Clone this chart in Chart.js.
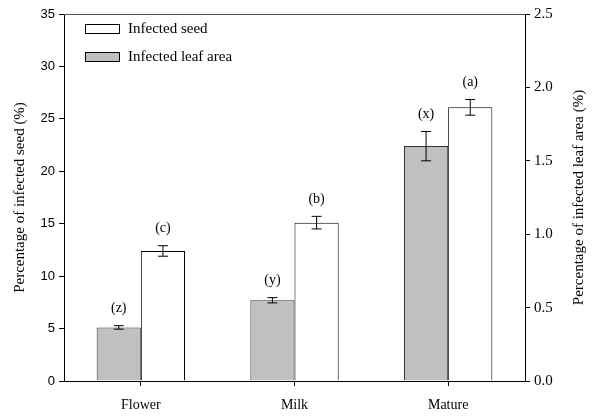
<!DOCTYPE html>
<html>
<head>
<meta charset="utf-8">
<script src="https://cdn.jsdelivr.net/npm/chart.js@4"></script>
<style>
  html, body { margin: 0; padding: 0; background: #fff; }
  #wrap { width: 595px; height: 419px; }
</style>
</head>
<body>
<div id="wrap"><canvas id="chart" width="595" height="419"></canvas></div>
<script>
// data
const stages = ['Flower', 'Milk', 'Mature'];
const seedValues = [12.4, 15.1, 26.1];      // % infected seed (left axis)
const seedErrors = [0.5, 0.6, 0.75];
const seedLetters = ['(c)', '(b)', '(a)'];
const leafValues = [0.365, 0.55, 1.6];      // % infected leaf area (right axis)
const leafErrors = [0.012, 0.018, 0.1];
const leafLetters = ['(z)', '(y)', '(x)'];
const seedTicks = [0, 5, 10, 15, 20, 25, 30, 35];
const leafTicks = [0, 0.5, 1.0, 1.5, 2.0, 2.5];

const serif = '"Liberation Serif", "Times New Roman", serif';
const sans = '"Liberation Sans", Arial, sans-serif';

const errorBars = {
    id: 'errorBars',
    afterDatasetsDraw(chart) {
        const ctx = chart.ctx;
        const sets = [
            { idx: 0, err: leafErrors, letters: leafLetters, axis: 'y2' },
            { idx: 1, err: seedErrors, letters: seedLetters, axis: 'y' }
        ];
        ctx.save();
        sets.forEach(s => {
            const meta = chart.getDatasetMeta(s.idx);
            const scale = chart.scales[s.axis];
            const vals = chart.data.datasets[s.idx].data;
            meta.data.forEach((bar, i) => {
                const x = bar.x;
                const yTop = scale.getPixelForValue(vals[i] + s.err[i]);
                const yBot = scale.getPixelForValue(vals[i] - s.err[i]);
                ctx.strokeStyle = '#000';
                ctx.lineWidth = 1;
                ctx.beginPath();
                ctx.moveTo(x, yTop); ctx.lineTo(x, yBot);
                ctx.moveTo(x - 5, yTop); ctx.lineTo(x + 5, yTop);
                ctx.moveTo(x - 5, yBot); ctx.lineTo(x + 5, yBot);
                ctx.stroke();
                ctx.fillStyle = '#000';
                ctx.font = '14px ' + serif;
                ctx.textAlign = 'center';
                ctx.textBaseline = 'bottom';
                ctx.fillText(s.letters[i], x, yTop - 10);
            });
        });
        const a = chart.chartArea;
        // top frame line
        ctx.strokeStyle = '#555';
        ctx.beginPath();
        ctx.moveTo(a.left, a.top + 0.5);
        ctx.lineTo(a.right, a.top + 0.5);
        ctx.stroke();
        // axis titles, both reading bottom to top
        const midY = (a.top + a.bottom) / 2;
        ctx.fillStyle = '#000';
        ctx.font = '15px ' + serif;
        ctx.textAlign = 'center';
        ctx.textBaseline = 'middle';
        [[20, 'Percentage of infected seed (%)'], [579, 'Percentage of infected leaf area (%)']].forEach(([tx, t]) => {
            ctx.save();
            ctx.translate(tx, midY);
            ctx.rotate(-Math.PI / 2);
            ctx.fillText(t, 0, 0);
            ctx.restore();
        });
        // legend
        const items = [
            { label: chart.data.datasets[1].label, fill: '#fff' },
            { label: chart.data.datasets[0].label, fill: '#c0c0c0' }
        ];
        items.forEach((it, k) => {
            const y = 24 + k * 28;
            ctx.fillStyle = it.fill;
            ctx.fillRect(85.5, y + 0.5, 34, 9);
            ctx.strokeStyle = '#000';
            ctx.strokeRect(85.5, y + 0.5, 34, 9);
            ctx.fillStyle = '#000';
            ctx.font = '15px ' + serif;
            ctx.textAlign = 'left';
            ctx.textBaseline = 'middle';
            ctx.fillText(it.label, 128, y + 5);
        });
        ctx.restore();
    }
};

new Chart(document.getElementById('chart'), {
    type: 'bar',
    data: {
        labels: stages,
        datasets: [
            {
                label: 'Infected leaf area',
                data: leafValues,
                yAxisID: 'y2',
                backgroundColor: '#c0c0c0',
                borderColor: '#333',
                borderWidth: 1,
                borderSkipped: 'bottom'
            },
            {
                label: 'Infected seed',
                data: seedValues,
                yAxisID: 'y',
                backgroundColor: '#fff',
                borderColor: '#000',
                borderWidth: 1,
                borderSkipped: 'bottom'
            }
        ]
    },
    options: {
        responsive: false,
        animation: false,
        devicePixelRatio: 1,
        layout: { padding: { top: 14, left: 0, right: 0, bottom: 0 } },
        categoryPercentage: 0.575,
        barPercentage: 1,
        plugins: { legend: { display: false }, tooltip: { enabled: false } },
        scales: {
            x: {
                grid: { display: true, drawOnChartArea: false, offset: false, tickLength: 5, color: '#000' },
                border: { color: '#000' },
                ticks: { color: '#000', font: { family: serif, size: 14 }, padding: 11 },
                afterFit(s) { s.height = 38; }
            },
            y: {
                position: 'left',
                min: 0, max: 35,
                afterBuildTicks(s) { s.ticks = seedTicks.map(v => ({ value: v })); },
                grid: { display: true, drawOnChartArea: false, tickLength: 5, color: '#000' },
                border: { color: '#000' },
                ticks: { color: '#000', font: { family: sans, size: 13 }, padding: 4 },
                afterFit(s) { s.width = 64; }
            },
            y2: {
                position: 'right',
                min: 0, max: 2.5,
                afterBuildTicks(s) { s.ticks = leafTicks.map(v => ({ value: v })); },
                grid: { display: true, drawOnChartArea: false, tickLength: 5, color: '#000' },
                border: { color: '#000' },
                ticks: { color: '#000', font: { family: serif, size: 15 }, padding: 4, callback: v => Number(v).toFixed(1) },
                afterFit(s) { s.width = 70; }
            }
        }
    },
    plugins: [errorBars]
});
</script>
</body>
</html>
